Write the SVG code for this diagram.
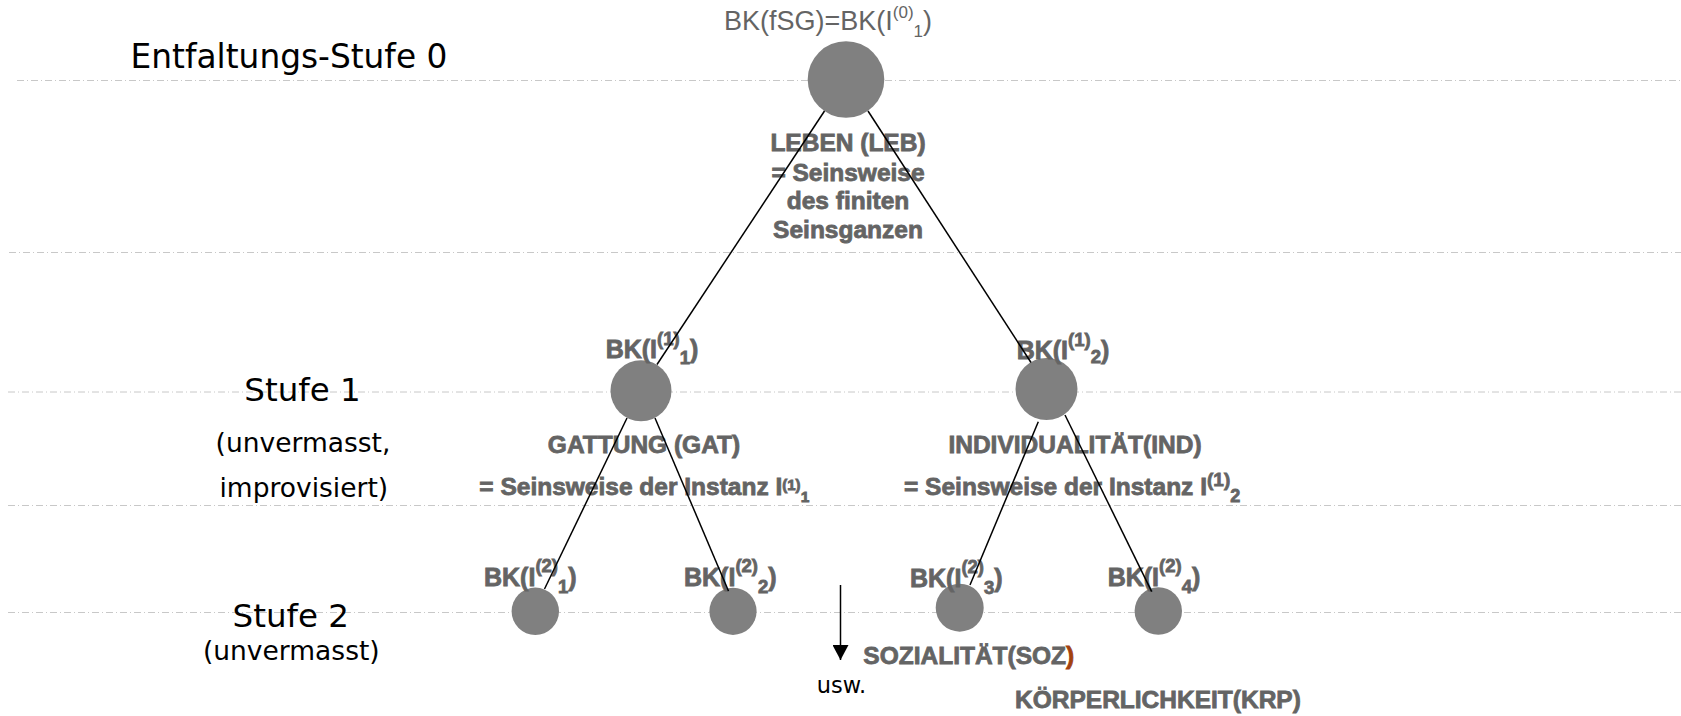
<svg xmlns="http://www.w3.org/2000/svg" width="1681" height="716" viewBox="0 0 1681 716">
<defs>
<style>
.guide{stroke:#c8c8c8;stroke-width:1;stroke-dasharray:7 3 1 3;fill:none}
.node{fill:#808080}
.edge{stroke:#000;stroke-width:1.5;fill:none}
.lvl{font-family:"DejaVu Sans",Verdana,sans-serif;fill:#000}
.lbl{font-family:"Liberation Sans",Arial,sans-serif;fill:#646464}
.b{font-weight:bold;stroke:#646464;stroke-width:0.8}
</style>
<marker id="arrow" markerUnits="userSpaceOnUse" markerWidth="16" markerHeight="16" refX="15" refY="8" orient="auto">
<path d="M0,0 L15,8 L0,16 Z" fill="#000"/>
</marker>
</defs>
<rect width="1681" height="716" fill="#fff"/>
<g id="guides">
<line class="guide" x1="17" y1="80.5" x2="1681" y2="80.5"/>
<line class="guide" x1="9" y1="252.5" x2="1681" y2="252.5"/>
<line class="guide" x1="8" y1="392" x2="1681" y2="392"/>
<line class="guide" x1="8" y1="505.5" x2="1681" y2="505.5"/>
<line class="guide" x1="8" y1="612.5" x2="1681" y2="612.5"/>
</g>
<g id="level-labels" class="lvl">
<text x="289" y="68.3" font-size="32.8" text-anchor="middle">Entfaltungs-Stufe 0</text>
<text x="302.5" y="400.7" font-size="32.5" text-anchor="middle">Stufe 1</text>
<text x="303" y="451.7" font-size="26.5" text-anchor="middle">(unvermasst,</text>
<text x="303.8" y="496.7" font-size="26.5" text-anchor="middle">improvisiert)</text>
<text x="290.8" y="626.7" font-size="32.5" text-anchor="middle">Stufe 2</text>
<text x="291.3" y="660" font-size="26.5" text-anchor="middle">(unvermasst)</text>
</g>
<g id="node-root">
<circle class="node" cx="846" cy="79.5" r="38.3"/>
<text class="lbl" x="724" y="30" font-size="27">BK(fSG)=BK(I<tspan font-size="17" dy="-11.7">(0)</tspan><tspan font-size="17" dy="18.4">1</tspan><tspan font-size="27" dy="-6.7">)</tspan></text>
</g>
<g id="label-leben" class="lbl b" font-size="24.5" text-anchor="middle">
<text x="848" y="151">LEBEN (LEB)</text>
<text x="848" y="180.5">= Seinsweise</text>
<text x="848" y="209">des finiten</text>
<text x="848" y="237.5">Seinsganzen</text>
</g>
<g id="node-i1-1">
<circle class="node" cx="641" cy="390.7" r="30.5"/>
<text class="lbl b" x="605.7" y="358.3" font-size="25">BK(I<tspan font-size="18.5" dy="-13.3">(1)</tspan><tspan font-size="18.5" dy="19">1</tspan><tspan font-size="25" dy="-5.7">)</tspan></text>
</g>
<g id="node-i1-2">
<circle class="node" cx="1046.5" cy="389" r="31"/>
<text class="lbl b" x="1016.7" y="359.3" font-size="25">BK(I<tspan font-size="18.5" dy="-13">(1)</tspan><tspan font-size="18.5" dy="17">2</tspan><tspan font-size="25" dy="-4">)</tspan></text>
</g>
<g id="label-gattung" class="lbl b" font-size="24.5">
<text x="644" y="452.7" text-anchor="middle">GATTUNG (GAT)</text>
<text x="479.3" y="495">= Seinsweise der Instanz I<tspan font-size="15" dy="-4.6">(1)</tspan><tspan font-size="15.5" dy="11.3">1</tspan></text>
</g>
<g id="label-individualitaet" class="lbl b" font-size="24.5">
<text x="1075" y="452.7" text-anchor="middle">INDIVIDUALITÄT(IND)</text>
<text x="904" y="495">= Seinsweise der Instanz I<tspan font-size="19" dy="-9">(1)</tspan><tspan font-size="18" dy="15.7">2</tspan></text>
</g>
<g id="node-i2-1">
<circle class="node" cx="535.3" cy="611.3" r="23.7"/>
<text class="lbl b" x="484" y="585.7" font-size="25">BK(I<tspan font-size="18.5" dy="-13.7">(2)</tspan><tspan font-size="18.5" dy="20.7">1</tspan><tspan font-size="25" dy="-7">)</tspan></text>
</g>
<g id="node-i2-2">
<circle class="node" cx="733" cy="611.3" r="23.6"/>
<text class="lbl b" x="684" y="585.7" font-size="25">BK(I<tspan font-size="18.5" dy="-13.7">(2)</tspan><tspan font-size="18.5" dy="20.7">2</tspan><tspan font-size="25" dy="-7">)</tspan></text>
</g>
<g id="node-i2-3">
<circle class="node" cx="959.7" cy="607.7" r="24"/>
<text class="lbl b" x="910" y="586.7" font-size="25">BK(I<tspan font-size="18.5" dy="-13.7">(2)</tspan><tspan font-size="18.5" dy="20.7">3</tspan><tspan font-size="25" dy="-7">)</tspan></text>
</g>
<g id="node-i2-4">
<circle class="node" cx="1158.3" cy="611" r="23.7"/>
<text class="lbl b" x="1107.7" y="585.7" font-size="25">BK(I<tspan font-size="18.5" dy="-13.7">(2)</tspan><tspan font-size="18.5" dy="20.7">4</tspan><tspan font-size="25" dy="-7">)</tspan></text>
</g>
<g id="label-sozialitaet">
<text class="lbl b" x="863.3" y="664.3" font-size="24.5">SOZIALITÄT(SOZ<tspan fill="#a3410f" stroke="#a3410f">)</tspan></text>
</g>
<g id="label-koerperlichkeit">
<text class="lbl b" x="1015" y="708.3" font-size="24.5">KÖRPERLICHKEIT(KRP)</text>
</g>
<g id="usw">
<text class="lvl" x="816.7" y="693.3" font-size="22.5">usw.</text>
</g>
<g id="connectors">
<line class="edge" x1="824.5" y1="111" x2="657" y2="364.5"/>
<line class="edge" x1="868" y1="111" x2="1031" y2="362.5"/>
<line class="edge" x1="627" y1="418" x2="544.5" y2="589"/>
<line class="edge" x1="655" y1="418" x2="728.5" y2="591"/>
<line class="edge" x1="1038.3" y1="421.7" x2="970" y2="585"/>
<line class="edge" x1="1065" y1="415" x2="1151.7" y2="591.7"/>
<line class="edge" x1="840.5" y1="585" x2="840.5" y2="660" marker-end="url(#arrow)"/>
</g>
</svg>
